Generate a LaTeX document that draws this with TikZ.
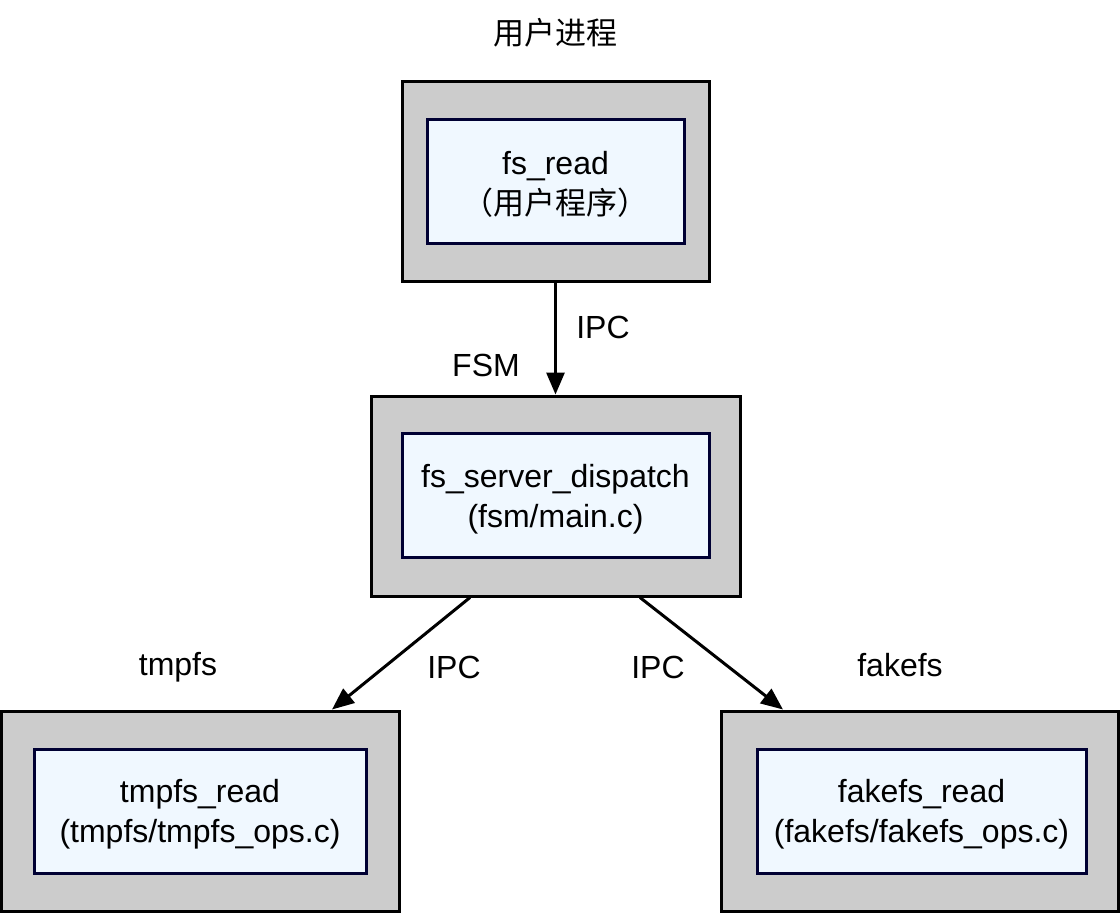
\documentclass[tikz,border=0pt]{standalone}
\usepackage{fontspec}
\setmainfont{Liberation Sans}
\newfontfamily\cjk{Noto Sans CJK SC}
\usetikzlibrary{arrows.meta}
\definecolor{outerfill}{HTML}{CCCCCC}
\definecolor{innerfill}{HTML}{F0F8FF}
\definecolor{innerline}{HTML}{000033}
\begin{document}
\begin{tikzpicture}[x=1pt,y=-1pt,
  outerbox/.style={draw=black,line width=3pt,fill=outerfill,minimum height=200pt,inner sep=0pt},
  innerbox/.style={draw=innerline,line width=3pt,fill=innerfill,minimum height=124pt,inner sep=0pt,align=center,font=\fontsize{32}{40}\selectfont},
  txt/.style={inner sep=0pt,align=center,font=\fontsize{32}{40}\selectfont},
  lbl/.style={font=\fontsize{32}{38}\selectfont,inner sep=0pt},
  conn/.style={line width=3pt,-{Triangle[length=22pt,width=18pt]}}]
\useasboundingbox (0,0) rectangle (1120,914);
\node[outerbox,minimum width=307pt] (top) at (555.5,181) {};
\node[innerbox,minimum width=257pt] (topin) at (555.5,181) {};
\node[txt] (toptxt) at (555.5,184) {fs\_read\\{\cjk\fontsize{31}{40}\selectfont（用户程序）}};
\node[outerbox,minimum width=369pt] (fsm) at (555.5,496) {};
\node[innerbox,minimum width=307pt] (fsmin) at (555.5,495) {};
\node[txt] (fsmtxt) at (555.5,499) {fs\_server\_dispatch\\(fsm/main.c)};
\node[outerbox,minimum width=398pt] (tmp) at (200,811) {};
\node[innerbox,minimum width=332pt] (tmpin) at (200,811) {};
\node[txt] (tmptxt) at (200,814) {tmpfs\_read\\(tmpfs/tmpfs\_ops.c)};
\node[outerbox,minimum width=397pt] (fake) at (919.5,811) {};
\node[innerbox,minimum width=329pt] (fakein) at (921.5,811) {};
\node[txt] (faketxt) at (921.5,814) {fakefs\_read\\(fakefs/fakefs\_ops.c)};
\node[lbl] (ltop) at (555,33) {\cjk\fontsize{31}{38}\selectfont 用户进程};
\node[lbl] (lipc1) at (603,327) {IPC};
\node[lbl] (lfsm) at (486,365) {FSM};
\node[lbl] (ltmp) at (178,667) {tmpfs};
\node[lbl] (lipc2) at (454,667) {IPC};
\node[lbl] (lipc3) at (658,667) {IPC};
\node[lbl] (lfake) at (900,665) {fakefs};
\draw[conn] (top.south) -- (fsm.north);
\draw[conn] ([xshift=-85.5pt]fsm.south) -- ([xshift=132pt]tmp.north);
\draw[conn] ([xshift=84.5pt]fsm.south) -- ([xshift=-136.5pt]fake.north);
\end{tikzpicture}
\end{document}
